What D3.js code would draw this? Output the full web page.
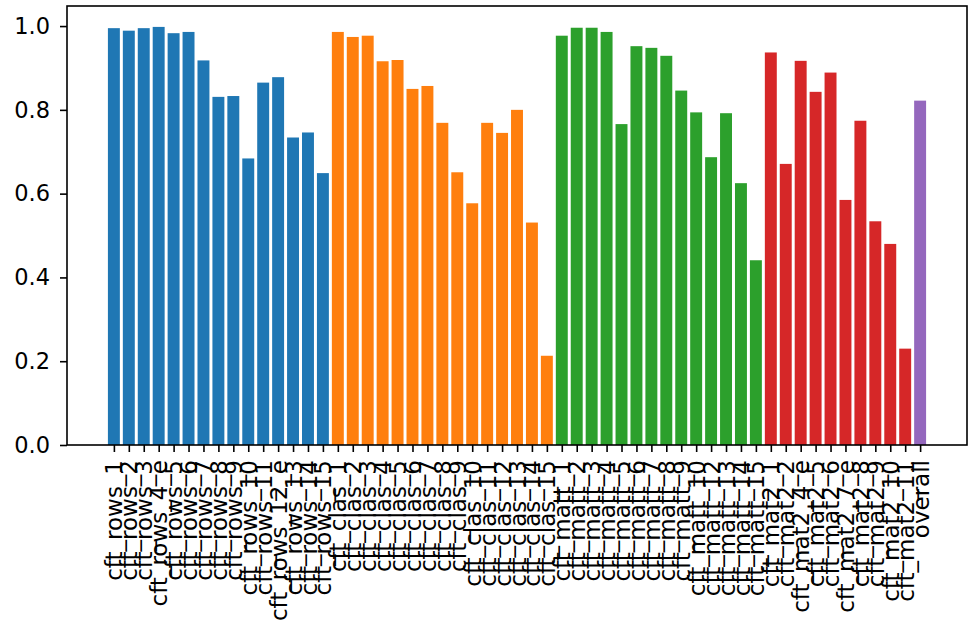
<!DOCTYPE html>
<html>
<head>
<meta charset="utf-8">
<script src="https://cdn.jsdelivr.net/npm/d3@7"></script>
<style>
  html, body { margin: 0; padding: 0; background: #fff; }
  svg { display: block; font-family: "DejaVu Sans", sans-serif; }
</style>
</head>
<body>
<svg id="chart" width="969" height="626"></svg>
<script>
// Accuracy per test case, grouped by suite
const rowsLabels = ["cft_rows_1","cft_rows_2","cft_rows_3","cft_rows_4_e","cft_rows_5","cft_rows_6","cft_rows_7","cft_rows_8","cft_rows_9","cft_rows_10","cft_rows_11","cft_rows_12_e","cft_rows_13","cft_rows_14","cft_rows_15"];
const rowsValues = [0.995,0.989,0.995,0.998,0.983,0.986,0.918,0.831,0.833,0.684,0.865,0.878,0.734,0.746,0.649];

const clasLabels = ["cft_clas_1","cft_clas_2","cft_clas_3","cft_clas_4","cft_clas_5","cft_clas_6","cft_clas_7","cft_clas_8","cft_clas_9","cft_clas_10","cft_clas_11","cft_clas_12","cft_clas_13","cft_clas_14","cft_clas_15"];
const clasValues = [0.986,0.974,0.977,0.916,0.919,0.850,0.857,0.769,0.651,0.577,0.769,0.745,0.800,0.531,0.213];

const mattLabels = ["cft_matt_1","cft_matt_2","cft_matt_3","cft_matt_4","cft_matt_5","cft_matt_6","cft_matt_7","cft_matt_8","cft_matt_9","cft_matt_10","cft_matt_12","cft_matt_13","cft_matt_14","cft_matt_15"];
const mattValues = [0.977,0.996,0.996,0.986,0.766,0.952,0.948,0.929,0.846,0.794,0.687,0.792,0.625,0.441];

const mat2Labels = ["cft_mat2_1","cft_mat2_2","cft_mat2_4_e","cft_mat2_5","cft_mat2_6","cft_mat2_7_e","cft_mat2_8","cft_mat2_9","cft_mat2_10","cft_mat2_11"];
const mat2Values = [0.937,0.671,0.917,0.843,0.889,0.585,0.774,0.534,0.480,0.230];

const overallLabels = ["overall"];
const overallValues = [0.822];

const yTicks = [0.0, 0.2, 0.4, 0.6, 0.8, 1.0];

const groups = [
  { labels: rowsLabels, values: rowsValues, color: "#1f77b4" },
  { labels: clasLabels, values: clasValues, color: "#ff7f0e" },
  { labels: mattLabels, values: mattValues, color: "#2ca02c" },
  { labels: mat2Labels, values: mat2Values, color: "#d62728" },
  { labels: overallLabels, values: overallValues, color: "#9467bd" }
];

const data = [];
groups.forEach(g => g.labels.forEach((l, i) => data.push({ label: l, value: g.values[i], color: g.color })));
data.forEach((d, i) => d.index = i);

const svg = d3.select("#chart");
const margin = { left: 67, top: 6, right: 2, bottom: 181 };
const W = 969, H = 626;
const plotW = W - margin.left - margin.right;
const plotH = H - margin.top - margin.bottom;

const n = data.length;
const barW = 0.8;
const pad = 0.05 * (n - 1 + barW);
const x = d3.scaleLinear()
  .domain([-barW / 2 - pad, n - 1 + barW / 2 + pad])
  .range([margin.left, margin.left + plotW]);
const y = d3.scaleLinear()
  .domain([0, 1.05 * d3.max(data, d => d.value)])
  .range([margin.top + plotH, margin.top]);

// bars
svg.append("g").selectAll("rect")
  .data(data)
  .join("rect")
  .attr("x", d => x(d.index - barW / 2))
  .attr("width", d => x(d.index + barW / 2) - x(d.index - barW / 2))
  .attr("y", d => y(d.value))
  .attr("height", d => y(0) - y(d.value))
  .attr("fill", d => d.color);

// y axis
const yAxis = svg.append("g")
  .attr("transform", `translate(${margin.left},0)`)
  .call(d3.axisLeft(y).tickValues(yTicks).tickFormat(d3.format(".1f")).tickSize(7).tickPadding(10));
yAxis.select(".domain").remove();
yAxis.selectAll(".tick line").attr("stroke", "#000").attr("stroke-width", 1.6);
yAxis.selectAll(".tick text")
  .attr("fill", "#000")
  .style("font-family", "'DejaVu Sans'")
  .style("font-size", "22.5px");

// x axis
const xAxis = svg.append("g")
  .attr("transform", `translate(0,${margin.top + plotH})`)
  .call(d3.axisBottom(x).tickValues(data.map(d => d.index))
    .tickFormat(i => data[i].label).tickSize(7).tickPadding(8));
xAxis.select(".domain").remove();
xAxis.selectAll(".tick line").attr("stroke", "#000").attr("stroke-width", 1.6);
xAxis.selectAll(".tick text")
  .attr("fill", "#000")
  .style("font-family", "'DejaVu Sans'")
  .style("font-size", "23px")
  .attr("transform", "rotate(-90)")
  .attr("text-anchor", "end")
  .attr("dy", "0.35em")
  .attr("x", -15)
  .attr("y", 0);

// frame
svg.append("rect")
  .attr("x", margin.left)
  .attr("y", margin.top)
  .attr("width", plotW)
  .attr("height", plotH)
  .attr("fill", "none")
  .attr("stroke", "#000")
  .attr("stroke-width", 1.6);
</script>
</body>
</html>
